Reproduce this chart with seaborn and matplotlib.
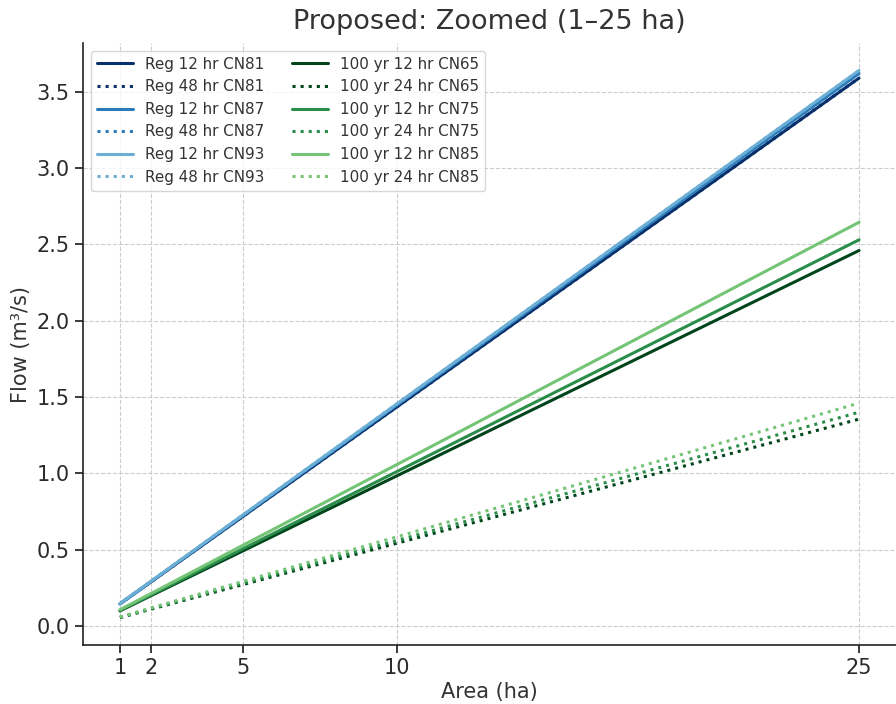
import matplotlib
matplotlib.use("Agg")
import matplotlib.pyplot as plt
import seaborn as sns
import pandas as pd

# Catchment areas (ha) and peak flows (m³/s)
areas = [1, 2, 5, 10, 25]

reg_12_cn81 = [0.144, 0.287, 0.718, 1.436, 3.59]
reg_48_cn81 = [0.144, 0.287, 0.718, 1.436, 3.59]
reg_12_cn87 = [0.145, 0.290, 0.724, 1.448, 3.62]
reg_48_cn87 = [0.145, 0.290, 0.724, 1.448, 3.62]
reg_12_cn93 = [0.146, 0.291, 0.728, 1.456, 3.64]
reg_48_cn93 = [0.146, 0.291, 0.728, 1.456, 3.64]

yr100_12_cn65 = [0.098, 0.197, 0.492, 0.984, 2.46]
yr100_24_cn65 = [0.054, 0.109, 0.271, 0.542, 1.355]
yr100_12_cn75 = [0.101, 0.202, 0.506, 1.012, 2.53]
yr100_24_cn75 = [0.056, 0.112, 0.280, 0.560, 1.40]
yr100_12_cn85 = [0.106, 0.211, 0.529, 1.058, 2.645]
yr100_24_cn85 = [0.058, 0.117, 0.292, 0.584, 1.46]

series = [
    ("Reg 12 hr CN81", reg_12_cn81, "#08306b", "-"),
    ("Reg 48 hr CN81", reg_48_cn81, "#08306b", ":"),
    ("Reg 12 hr CN87", reg_12_cn87, "#2b7bba", "-"),
    ("Reg 48 hr CN87", reg_48_cn87, "#2b7bba", ":"),
    ("Reg 12 hr CN93", reg_12_cn93, "#6baed6", "-"),
    ("Reg 48 hr CN93", reg_48_cn93, "#6baed6", ":"),
    ("100 yr 12 hr CN65", yr100_12_cn65, "#00441b", "-"),
    ("100 yr 24 hr CN65", yr100_24_cn65, "#00441b", ":"),
    ("100 yr 12 hr CN75", yr100_12_cn75, "#2a8d4a", "-"),
    ("100 yr 24 hr CN75", yr100_24_cn75, "#2a8d4a", ":"),
    ("100 yr 12 hr CN85", yr100_12_cn85, "#74c476", "-"),
    ("100 yr 24 hr CN85", yr100_24_cn85, "#74c476", ":"),
]

sns.set_theme(style="whitegrid")
plt.rcParams.update({
    "font.family": ["DejaVu Sans"],
    "grid.linestyle": "--",
    "grid.color": "#cccccc",
    "grid.linewidth": 0.8,
    "xtick.bottom": True,
    "ytick.left": True,
    "xtick.major.size": 6,
    "ytick.major.size": 6,
    "xtick.color": "#222222",
    "ytick.color": "#222222",
    "text.color": "#333333",
    "axes.labelcolor": "#333333",
})

fig = plt.figure(figsize=(8.96, 7.04), dpi=100)
ax = fig.add_axes([0.0926, 0.0838, 0.9074, 0.855])

for label, values, color, ls in series:
    df = pd.DataFrame({"Area": areas, "Flow": values})
    sns.lineplot(data=df, x="Area", y="Flow", ax=ax, color=color,
                 linestyle=ls, linewidth=2.2, label=label)

ax.set_xticks(areas)
ax.set_yticks([0.0, 0.5, 1.0, 1.5, 2.0, 2.5, 3.0, 3.5])
ax.tick_params(labelsize=15, labelcolor="#2a2a2a")
ax.set_xlabel("Area (ha)", fontsize=15, labelpad=3)
ax.set_ylabel("Flow (m³/s)", fontsize=15)
ax.set_title("Proposed: Zoomed (1–25 ha)", fontsize=19.5, pad=10)

sns.despine(ax=ax)
for side in ("left", "bottom"):
    ax.spines[side].set_color("#222222")
    ax.spines[side].set_linewidth(1.2)

ax.legend(loc="upper left", ncol=2, fontsize=10.9, frameon=True,
          columnspacing=1.8, handlelength=2.4, borderaxespad=0.5)

fig.savefig("out.png", dpi=100)
